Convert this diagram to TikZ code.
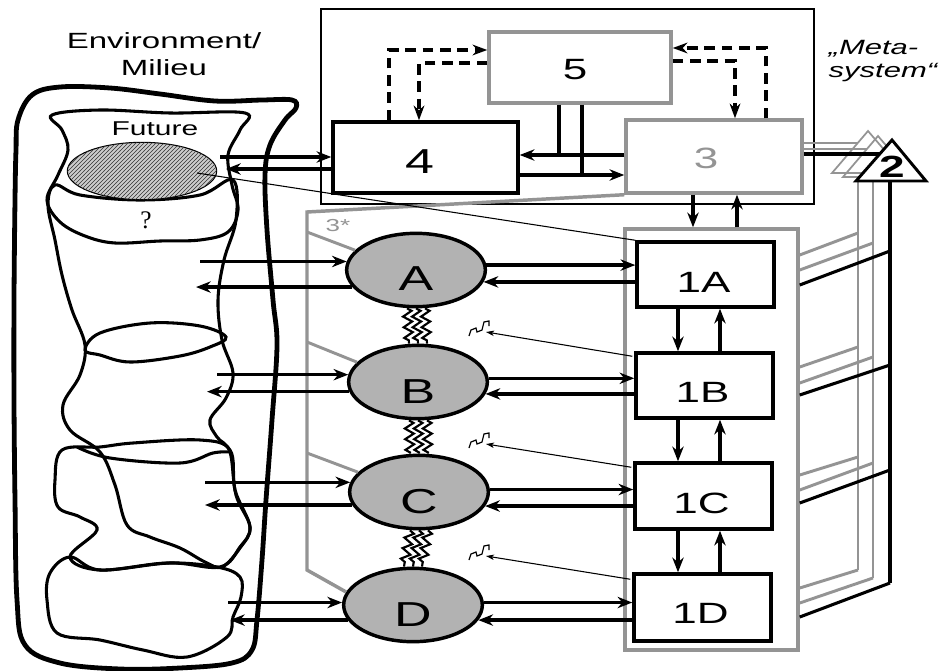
\documentclass[tikz,border=0pt]{standalone}
\usepackage{fontspec}
\setmainfont{Liberation Sans}[FakeStretch=1.5]
\newfontfamily\qfont{Liberation Serif}
\usetikzlibrary{arrows.meta,shapes.geometric,fit,decorations.pathmorphing,calc,patterns}
\definecolor{gline}{gray}{0.58}
\definecolor{efill}{gray}{0.70}
\tikzset{
 arr/.style={line width=2.6pt, -{Stealth[length=11pt,width=8.5pt,inset=3.5pt]}},
 tarr/.style={line width=0.8pt, -{Stealth[length=6pt,width=4pt,inset=1.5pt]}},
 darr/.style={line width=2.3pt, dash pattern=on 8pt off 5pt, -{Stealth[length=11pt,width=8pt,inset=3.5pt]}},
 blackbox/.style={draw, line width=2.6pt, inner sep=0pt},
 graybox/.style={draw=gline, line width=2.6pt, inner sep=0pt},
 ell/.style={ellipse, draw, line width=2.6pt, fill=efill, minimum width=104pt, minimum height=55pt, inner sep=0pt},
 blob/.style={line width=2.3pt},
 zz/.style={line width=1.6pt, decorate, decoration={zigzag, amplitude=3.3pt, segment length=8pt}},
 glin/.style={draw=gline, line width=2.2pt},
 lbl/.style={font=\fontsize{22}{22}\selectfont},
 ellbl/.style={font=\fontsize{26}{26}\selectfont},
}
\begin{document}
\begin{tikzpicture}[x=0.75pt,y=-0.75pt]
\useasboundingbox (0,0) rectangle (940,671);
\fill[white] (0,0) rectangle (940,671);

% ---------- environment ----------
\draw[line width=3.6pt] plot[smooth cycle, tension=0.6] coordinates {(18,120) (32,95) (60,87) (110,88) (160,94) (215,101) (262,100) (292,100) (296,108) (285,120) (270,145) (265,175) (267,230) (273,300) (277,345) (272,420) (266,500) (262,560) (257,620) (252,650) (232,663) (180,668) (120,669) (60,663) (25,645) (17,600) (15,500) (14,400) (14,300) (15,200) (16,150)};
\draw[blob] plot[smooth cycle, tension=0.6] coordinates {(52,115) (100,110) (170,113) (245,113) (240,130) (228,155) (232,185) (238,210) (228,232) (200,240) (160,241) (115,243) (85,236) (60,222) (47,200) (58,175) (68,150) (62,130)};
\draw[blob] plot[smooth cycle, tension=0.6] coordinates {(55,185) (48,205) (55,240) (62,275) (72,310) (85,345) (80,375) (63,405) (70,430) (100,452) (115,485) (127,525) (150,537) (180,548) (205,562) (222,567) (240,548) (250,527) (236,495) (230,452) (217,437) (210,420) (226,398) (233,373) (222,340) (218,300) (224,260) (236,220) (233,180) (200,195) (140,200) (80,195)};
\draw[blob] plot[smooth cycle, tension=0.6] coordinates {(85,350) (100,333) (150,323) (200,326) (226,337) (210,347) (180,356) (130,362) (100,355)};
\draw[blob] plot[smooth cycle, tension=0.6] coordinates {(62,450) (100,447) (133,443) (200,440) (230,450) (235,490) (250,527) (240,547) (220,567) (170,563) (100,570) (70,557) (97,530) (80,517) (58,507) (55,480)};
\draw[blob] plot[smooth, tension=0.6] coordinates {(77,447) (110,458) (180,463) (213,453) (230,452)};
\draw[blob] plot[smooth cycle, tension=0.6] coordinates {(70,557) (100,570) (167,563) (217,567) (240,577) (241,597) (233,617) (227,637) (187,657) (143,650) (100,640) (57,633) (47,600) (50,573)};

\node[ellipse, draw, line width=0.8pt, fill=gray!40, postaction={pattern=north east lines, pattern color=black!80}, minimum width=112pt, minimum height=43pt, inner sep=0pt] (fut) at (142,171) {};

\node[font=\fontsize{16.5}{18}\selectfont, anchor=base] (envt) at (164,48) {Environment/};
\node[font=\fontsize{16.5}{18}\selectfont, anchor=base] (milt) at (164,75) {Milieu};
\node[font=\fontsize{15}{15}\selectfont, anchor=base] (futt) at (155,135) {Future};
\node[font=\qfont\fontsize{19}{19}\selectfont] (qm) at (146,220) {?};

% ---------- metasystem ----------
\node[draw, line width=1pt, inner sep=0pt, fit={(321,9) (814,204)}] (meta) {};
\node[graybox, fit={(489,32) (671,103)}] (b5) {};
\node[lbl] at ($(b5.center)+(-5,2)$) {5};
\node[blackbox, fit={(333,122) (518,193)}] (b4) {};
\node[font=\fontsize{26}{26}\selectfont] at ($(b4.center)+(-6,4)$) {4};
\node[graybox, fit={(626,120) (802,193)}] (b3) {};
\node[lbl, text=gline] at ($(b3.center)+(-8,2)$) {3};

\draw[darr] (389,0 |- b4.north) |- (b5.west |- 0,50);
\draw[darr] (b5.west |- 0,63) -| (419,0 |- b4.north);
\draw[darr] (766,0 |- b3.north) |- (b5.east |- 0,48);
\draw[darr] (b5.east |- 0,61) -| (735,0 |- b3.north);

\draw[arr] (b3.west |- 0,155) -- (b4.east |- 0,155);
\draw[arr] (b4.east |- 0,175) -- (b3.west |- 0,175);
\draw[line width=2.6pt] (559,0 |- b5.south) -- (559,155);
\draw[line width=2.6pt] (582,0 |- b5.south) -- (582,175);

\coordinate (f1) at (220,157);
\coordinate (f2) at (226,169);
\draw[arr] (f1) -- (b4.west |- f1);
\draw[arr] (b4.west |- f2) -- (f2);

\node[font=\itshape\fontsize{15.5}{16}\selectfont, anchor=base west] (meta1) at (824,55) {„Meta-};
\node[font=\itshape\fontsize{15.5}{16}\selectfont, anchor=base west] (meta2) at (824,77) {system“};

% ---------- operations ----------
\node[ell] (eA) at (416,270) {};
\node[ell] (eB) at (418,382) {};
\node[ell] (eC) at (419,492) {};
\node[ell] (eD) at (413,605) {};
\node[ellbl] at ($(eA.center)+(0,9)$) {A};
\node[ellbl] at ($(eB.center)+(0,10)$) {B};
\node[ellbl] at ($(eC.center)+(0,10)$) {C};
\node[ellbl] at ($(eD.center)+(0,10)$) {D};

\foreach \dx in {-9,0,9}{
  \draw[zz] ($(eA.south)+(\dx,0)$) -- ($(eB.north)+(\dx,0)$);
  \draw[zz] ($(eB.south)+(\dx,0)$) -- ($(eC.north)+(\dx,0)$);
  \draw[zz] ($(eC.south)+(\dx,0)$) -- ($(eD.north)+(\dx,0)$);
}

\draw[draw=gline, line width=2.6pt] (b3.south west) -- (307,212) -- (307,570) -- (eD.169);
\draw[draw=gline, line width=2.2pt] (307,232) -- (eA.162);
\draw[draw=gline, line width=2.2pt] (307,342) -- (eB.162);
\draw[draw=gline, line width=2.2pt] (307,453) -- (eC.162);
\node[text=gline, font=\fontsize{13}{13}\selectfont] (three) at (338,226) {3*};

\node[graybox, fit={(625,229) (798,650)}] (g1) {};
\node[blackbox, fit={(637,242) (774,307)}] (b1A) {};
\node[blackbox, fit={(636,353) (773,418)}] (b1B) {};
\node[blackbox, fit={(635,463) (772,529)}] (b1C) {};
\node[blackbox, fit={(634,574) (771,641)}] (b1D) {};
\node[lbl] at ($(b1A.center)+(-2,8)$) {1A};
\node[lbl] at ($(b1B.center)+(-2,7)$) {1B};
\node[lbl] at ($(b1C.center)+(-2,7)$) {1C};
\node[lbl] at ($(b1D.center)+(-2,6)$) {1D};

\foreach \u/\l in {b1A/b1B, b1B/b1C, b1C/b1D}{
  \draw[arr] (678,0 |- \u.south) -- (678,0 |- \l.north);
  \draw[arr] (720,0 |- \l.north) -- (720,0 |- \u.south);
}
\draw[arr] (693,0 |- b3.south) -- (693,0 |- g1.north);
\draw[arr] (737,0 |- g1.north) -- (737,0 |- b3.south);

% ellipse <-> boxes
\draw[arr] (eA.4) -- (b1A.west |- eA.4);
\draw[arr] (b1A.west |- eA.-10) -- (eA.-10);
\draw[arr] (eB.3) -- (b1B.west |- eB.3);
\draw[arr] (b1B.west |- eB.-10) -- (eB.-10);
\draw[arr] (eC.2) -- (b1C.west |- eC.2);
\draw[arr] (b1C.west |- eC.-12) -- (eC.-12);
\draw[arr] (eD.2) -- (b1D.west |- eD.2);
\draw[arr] (b1D.west |- eD.-13) -- (eD.-13);

% environment <-> ellipses
\draw[arr] (200,0 |- eA.173) -- (eA.173);
\draw[arr] (eA.195) -- (196,0 |- eA.195);
\draw[arr] (217,0 |- eB.174) -- (eB.174);
\draw[arr] (eB.188) -- (207,0 |- eB.188);
\draw[arr] (205,0 |- eC.172.6) -- (eC.172.6);
\draw[arr] (eC.191.8) -- (205,0 |- eC.191.8);
\draw[arr] (228,0 |- eD.178.4) -- (eD.178.4);
\draw[arr] (eD.193.9) -- (230,0 |- eD.193.9);

% future -> 1A thin line
\draw[line width=0.8pt] (197,173) -- (b1A.north west);

% squiggles
\coordinate (s1) at (486,332);
\coordinate (s2) at (486,444);
\coordinate (s3) at (486,556);
\foreach \s in {s1,s2,s3}{
  \draw[line width=0.9pt] ($(\s)+(-17,4)$) -- ++(2,-6) -- ++(5,-2) -- ++(1,4) -- ++(5,-2) -- ++(2,-8) -- ++(5,-1) -- ++(0,5);
}
\draw[tarr] ($(b1B.north west)+(-2,5)$) -- (s1);
\draw[tarr] ($(b1C.north west)+(-2,6)$) -- (s2);
\draw[tarr] ($(b1D.north west)+(-2,7)$) -- (s3);

% ---------- system 2 ----------
\coordinate (tA) at (892,140);
\coordinate (tL) at (856,181);
\coordinate (tR) at (926,181);
\draw[draw=gline, line width=1.3pt] (868,131) -- (832,173) -- (904,173) -- cycle;
\draw[draw=gline, line width=1.3pt] (878,136) -- (843,177) -- (913,177) -- cycle;
\draw[glin] (b3.east |- 0,143) -- (858,143);
\draw[glin] (b3.east |- 0,149) -- (867,149);
\draw[glin] (858,181) -- (858,570);
\draw[glin] (873,181) -- (873,578);
\draw[glin] (g1.east |- 0,255) -- (858,233);
\draw[glin] (g1.east |- 0,270) -- (873,243);
\draw[glin] (g1.east |- 0,367) -- (858,347);
\draw[glin] (g1.east |- 0,383) -- (873,357);
\draw[glin] (g1.east |- 0,475) -- (858,457);
\draw[glin] (g1.east |- 0,490) -- (873,463);
\draw[glin] (g1.east |- 0,588) -- (858,570);
\draw[glin] (g1.east |- 0,603) -- (873,578);
\draw[line width=2.2pt, fill=white] (tA) -- (tL) -- (tR) -- cycle;
\node[font=\bfseries\fontsize{23}{23}\selectfont] (two) at (892,167) {2};
\draw[line width=2.3pt] (b3.east |- 0,154) -- (880,154);
\draw[line width=2.3pt] (890,0 |- tL) -- (890,583);
\draw[line width=2.3pt] (g1.east |- 0,285) -- (890,251);
\draw[line width=2.3pt] (g1.east |- 0,395) -- (890,365);
\draw[line width=2.3pt] (g1.east |- 0,503) -- (890,470);
\draw[line width=2.3pt] (g1.east |- 0,617) -- (890,583);
\end{tikzpicture}
\end{document}
